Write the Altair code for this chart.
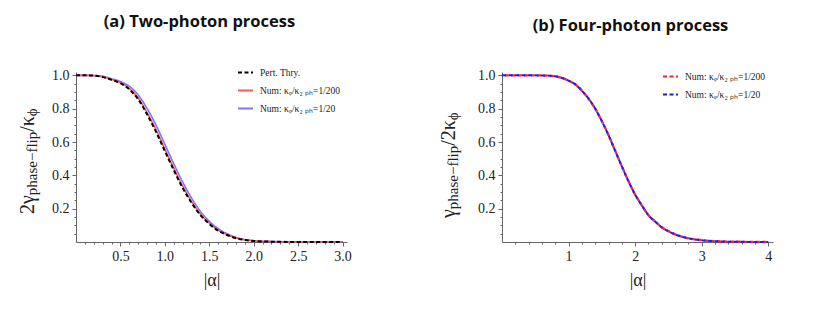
import altair as alt
import pandas as pd

# ---------------- data ----------------
alpha_a = [0.0, 0.1, 0.2, 0.3, 0.4, 0.5, 0.6, 0.7, 0.8, 0.9, 1.0, 1.1, 1.2, 1.3,
           1.4, 1.5, 1.6, 1.7, 1.8, 1.9, 2.0, 2.2, 2.4, 2.6, 2.8, 3.0]
pert_a = [1.0, 1.0, 0.998, 0.99, 0.973, 0.953, 0.916, 0.856, 0.766, 0.662, 0.546,
          0.432, 0.325, 0.236, 0.162, 0.109, 0.068, 0.042, 0.023, 0.012, 0.006,
          0.002, 0.0005, 0.0001, 0.0, 0.0]
num200_a = [1.0, 1.0, 0.998, 0.991, 0.975, 0.956, 0.921, 0.864, 0.776, 0.674, 0.558,
            0.443, 0.335, 0.244, 0.168, 0.114, 0.071, 0.044, 0.025, 0.013, 0.007,
            0.002, 0.0006, 0.0001, 0.0, 0.0]
num20_a = [1.0, 1.0, 0.999, 0.994, 0.98, 0.963, 0.934, 0.882, 0.801, 0.702, 0.586,
           0.47, 0.36, 0.264, 0.184, 0.125, 0.08, 0.05, 0.028, 0.015, 0.008,
           0.003, 0.001, 0.0002, 0.0, 0.0]

alpha_b = [0.0, 0.2, 0.4, 0.6, 0.8, 1.0, 1.1, 1.2, 1.3, 1.4, 1.5, 1.6, 1.7, 1.8,
           1.9, 2.0, 2.1, 2.2, 2.3, 2.4, 2.5, 2.6, 2.8, 3.0, 3.2, 3.4, 3.6, 3.8, 4.0]
num200_b = [1.0, 1.0, 1.0, 0.9995, 0.994, 0.968, 0.946, 0.908, 0.86, 0.80, 0.725,
            0.641, 0.547, 0.454, 0.364, 0.284, 0.22, 0.16, 0.123, 0.088, 0.065,
            0.046, 0.022, 0.011, 0.005, 0.002, 0.001, 0.0003, 0.0]
num20_b = [1.0, 1.0, 1.0, 0.9995, 0.994, 0.968, 0.946, 0.908, 0.86, 0.80, 0.725,
           0.641, 0.547, 0.454, 0.364, 0.284, 0.22, 0.16, 0.123, 0.088, 0.065,
           0.046, 0.022, 0.011, 0.005, 0.002, 0.001, 0.0003, 0.0]

x_major_a = [0.5, 1.0, 1.5, 2.0, 2.5, 3.0]
x_major_b = [1, 2, 3, 4]
y_major = [0.2, 0.4, 0.6, 0.8, 1.0]

L_PERT = "Pert. Thry."
L_200 = "Num: κᵩ/κ₂ ₚₕ=1/200"
L_20 = "Num: κᵩ/κ₂ ₚₕ=1/20"

title_a = "(a)  Two-photon process"
title_b = "(b) Four-photon process"

# ---------------- styling ----------------
SERIF = "Liberation Serif"
AX = "#666666"
W, H = 271, 170
XA_DOM = [0, 3.05]
XB_DOM = [0, 4.07]
Y_DOM = [0, 1.02]

x_minor_a = [round(i * 0.1, 1) for i in range(1, 31) if i % 5 != 0]
x_minor_b = [round(i * 0.2, 1) for i in range(1, 21) if i % 5 != 0]
y_minor = [round(i * 0.05, 2) for i in range(1, 21) if i % 4 != 0]


def frame(series, alpha, vals):
    return pd.DataFrame({"alpha": alpha, "val": vals, "series": series})


def major_axes(xvals, xdom):
    x = alt.X("alpha:Q", scale=alt.Scale(domain=xdom, nice=False, zero=False),
              axis=alt.Axis(values=xvals, format=".1f" if xvals[0] < 1 else "d",
                            orient="bottom", title="|α|", titleFont=SERIF,
                            titleFontSize=18, titleFontWeight="normal",
                            titleColor="#222", titlePadding=8,
                            labelFont=SERIF, labelFontSize=14, labelColor="#222",
                            labelPadding=3, tickSize=4, tickColor=AX,
                            domainColor=AX, grid=False))
    y = alt.Y("val:Q", scale=alt.Scale(domain=Y_DOM, nice=False, zero=False),
              axis=alt.Axis(values=y_major, format=".1f", orient="left", title=None,
                            labelFont=SERIF, labelFontSize=14, labelColor="#222",
                            labelPadding=3, tickSize=4, tickColor=AX,
                            domainColor=AX, grid=False))
    return x, y


def minor_axes(xvals, xdom):
    x = alt.X("alpha:Q", scale=alt.Scale(domain=xdom, nice=False, zero=False),
              axis=alt.Axis(values=xvals, orient="bottom", labels=False, title=None,
                            tickSize=2, tickColor=AX, domain=False, grid=False))
    y = alt.Y("val:Q", scale=alt.Scale(domain=Y_DOM, nice=False, zero=False),
              axis=alt.Axis(values=y_minor, orient="left", labels=False, title=None,
                            tickSize=2, tickColor=AX, domain=False, grid=False))
    return x, y


def plain_axes(xdom):
    x = alt.X("alpha:Q", scale=alt.Scale(domain=xdom, nice=False, zero=False), axis=None)
    y = alt.Y("val:Q", scale=alt.Scale(domain=Y_DOM, nice=False, zero=False), axis=None)
    return x, y


def legend(lx, ly):
    return alt.Legend(title=None, orient="none", direction="vertical",
                      legendX=lx, legendY=ly,
                      symbolType="stroke", symbolSize=225, symbolStrokeWidth=2,
                      labelFont=SERIF, labelFontSize=9.5, labelColor="#222",
                      labelOffset=6, rowPadding=5, labelLimit=250)


def ytitle(segs, base_x):
    out = []
    for txt, size, y0, shift in segs:
        out.append(
            alt.Chart(pd.DataFrame({"t": [txt]}))
            .mark_text(angle=270, align="left", baseline="alphabetic", font=SERIF,
                       fontSize=size, color="#222")
            .encode(text="t:N", x=alt.value(base_x + shift), y=alt.value(y0))
        )
    return out


def seg_layout(parts, start):
    res = []
    y = start
    for txt, size, wem, shift in parts:
        res.append((txt, size, y, shift))
        y -= wem * size
    return res


MAIN, SUB = 20, 15

# ---------------- panel (a) ----------------
dom_a = [L_PERT, L_200, L_20]
col_a = alt.Color("series:N", scale=alt.Scale(domain=dom_a, range=["#000000", "#ff5555", "#7777ff"]),
                  legend=legend(161, -8))
dash_a = alt.StrokeDash("series:N", scale=alt.Scale(domain=dom_a, range=[[4, 2.5], [1, 0], [1, 0]]),
                        legend=legend(161, -8))

xa, ya = major_axes(x_major_a, XA_DOM)
xa_p, ya_p = plain_axes(XA_DOM)
xa_m, ya_m = minor_axes(x_minor_a, XA_DOM)

blue_a = alt.Chart(frame(L_20, alpha_a, num20_a)).mark_line(
    strokeWidth=1.6, interpolate="monotone").encode(x=xa, y=ya, color=col_a, strokeDash=dash_a)
red_a = alt.Chart(frame(L_200, alpha_a, num200_a)).mark_line(
    strokeWidth=1.6, interpolate="monotone").encode(x=xa_p, y=ya_p, color=col_a, strokeDash=dash_a)
black_a = alt.Chart(frame(L_PERT, alpha_a, pert_a)).mark_line(
    strokeWidth=2, interpolate="monotone").encode(x=xa_p, y=ya_p, color=col_a, strokeDash=dash_a)
minor_a = alt.Chart(frame(L_PERT, alpha_a, pert_a)).mark_line(opacity=0).encode(x=xa_m, y=ya_m)

segs_a = seg_layout([("2γ", MAIN, 0.94, 0), ("phase−flip", SUB, 4.23, 3),
                     ("/κ", MAIN, 0.78, 0), ("ϕ", SUB, 0.55, 3)], 142)
panel_a = alt.layer(blue_a, red_a, black_a, minor_a, *ytitle(segs_a, -42)).resolve_axis(
    x="independent", y="independent").properties(
    width=W, height=H,
    title=alt.TitleParams(title_a, font="Open Sans", fontSize=16.5, fontWeight="bold",
                          color="#111", anchor="middle", frame="group", dx=-12, offset=34))

# ---------------- panel (b) ----------------
dom_b = [L_200, L_20]
col_b = alt.Color("series:N", scale=alt.Scale(domain=dom_b, range=["#ff2020", "#1a1aff"]),
                  legend=legend(160, -4))
dash_b = alt.StrokeDash("series:N", scale=alt.Scale(domain=dom_b, range=[[4, 2.5], [4, 2.5]]),
                        legend=legend(160, -4))

xb, yb = major_axes(x_major_b, XB_DOM)
xb_p, yb_p = plain_axes(XB_DOM)
xb_m, yb_m = minor_axes(x_minor_b, XB_DOM)

red_b = alt.Chart(frame(L_200, alpha_b, num200_b)).mark_line(
    strokeWidth=2.4, interpolate="monotone", strokeDashOffset=4).encode(
    x=xb, y=yb, color=col_b, strokeDash=dash_b)
blue_b = alt.Chart(frame(L_20, alpha_b, num20_b)).mark_line(
    strokeWidth=2, interpolate="monotone").encode(x=xb_p, y=yb_p, color=col_b, strokeDash=dash_b)
minor_b = alt.Chart(frame(L_20, alpha_b, num20_b)).mark_line(opacity=0).encode(x=xb_m, y=yb_m)

segs_b = seg_layout([("γ", MAIN, 0.44, 0), ("phase−flip", SUB, 4.23, 3),
                     ("/2κ", MAIN, 1.28, 0), ("ϕ", SUB, 0.55, 3)], 146)
panel_b = alt.layer(red_b, blue_b, minor_b, *ytitle(segs_b, -47)).resolve_axis(
    x="independent", y="independent").properties(
    width=W, height=H,
    title=alt.TitleParams(title_b, font="Open Sans", fontSize=16.5, fontWeight="bold",
                          color="#111", anchor="middle", frame="group", dx=-7, offset=34))

chart = alt.hconcat(panel_a, panel_b, spacing=86).resolve_scale(
    color="independent", strokeDash="independent"
).resolve_legend(
    color="independent", strokeDash="independent"
).properties(
    padding={"left": 10, "top": 5, "right": 5, "bottom": 5}
).configure_view(stroke=None)

chart.save("out.html", embed_options={"renderer": "svg", "actions": False})
